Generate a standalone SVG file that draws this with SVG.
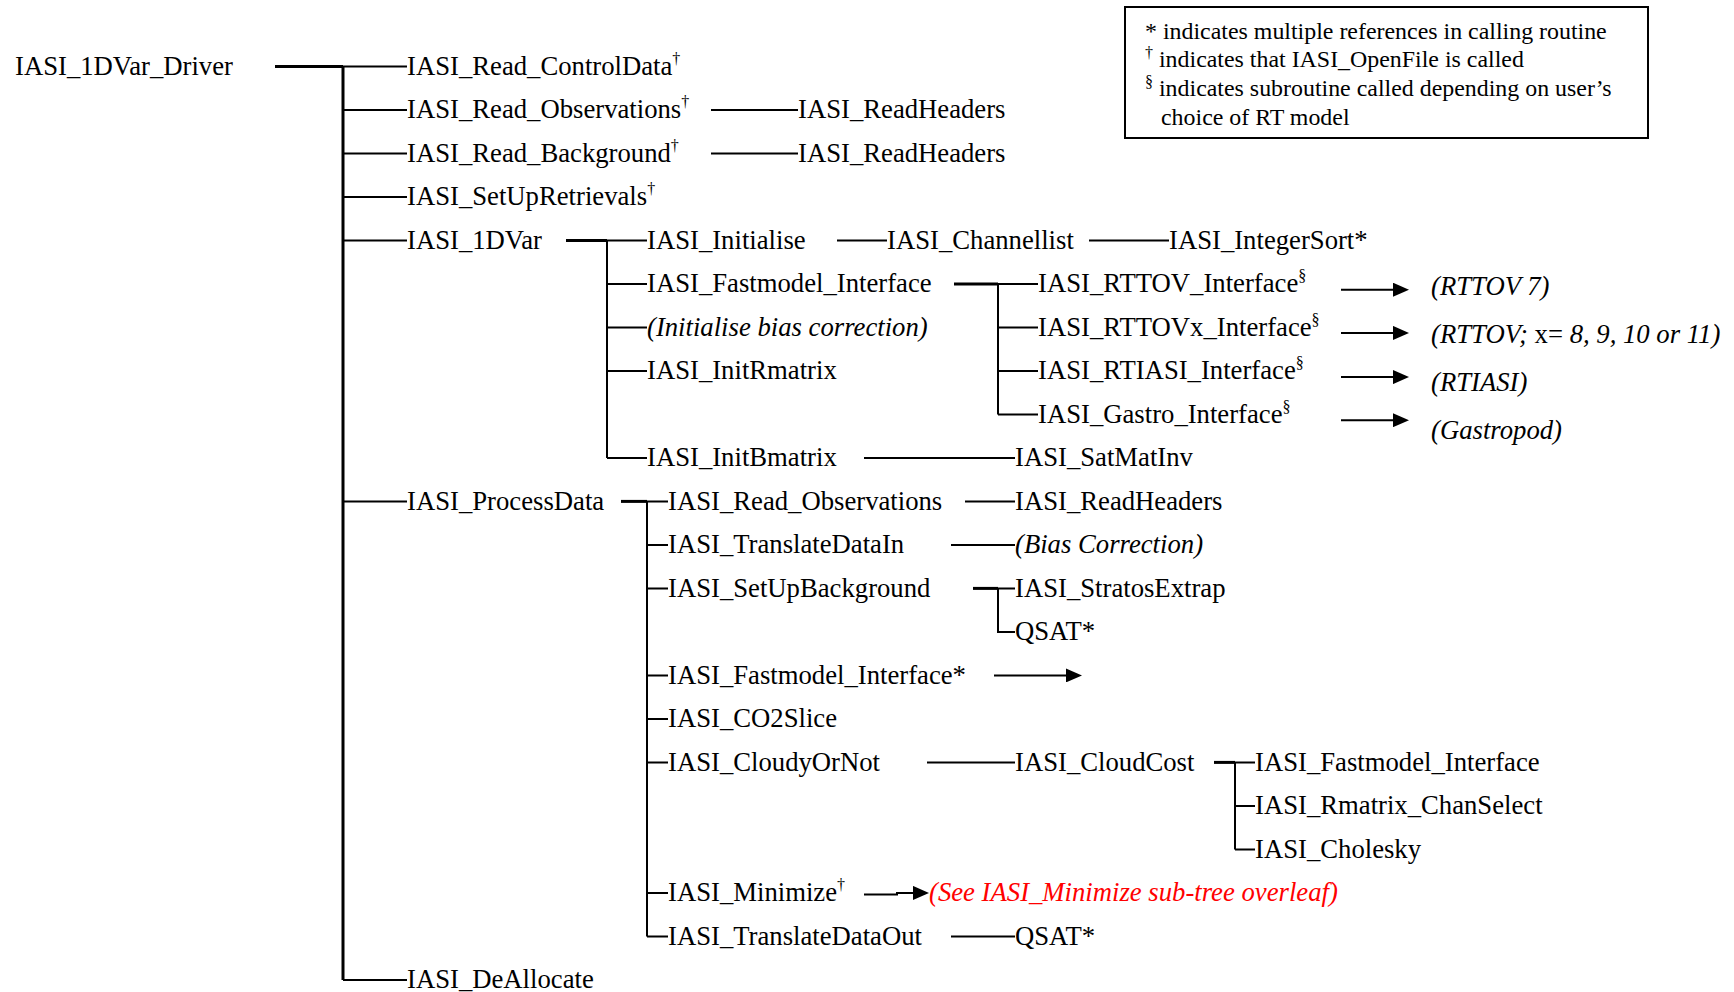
<svg xmlns="http://www.w3.org/2000/svg" width="1734" height="992" viewBox="0 0 1734 992">
<defs>
<style>
.t{font-family:"Liberation Serif","Times New Roman",serif;font-size:26.7px;fill:#000}
.i{font-style:italic}
.r{fill:#f00}
.sup{font-size:16px}
.lg{font-size:23.9px}
.ln{stroke:#000;stroke-width:2;fill:none}
.tk{stroke-width:3}
.box{fill:none;stroke:#000;stroke-width:2}
</style>
<marker id="ah" markerWidth="16" markerHeight="14" refX="0" refY="7" orient="auto" markerUnits="userSpaceOnUse">
<path d="M0,0 L16,7 L0,14 Z" fill="#000"/>
</marker>
</defs>
<rect width="1734" height="992" fill="#fff"/>

<g id="legend">
<rect class="box" x="1125" y="7" width="523" height="131"/>
<text class="t lg" x="1145" y="39">* indicates multiple references in calling routine</text>
<text class="t lg" x="1145" y="67"><tspan class="sup" dy="-9">†</tspan><tspan dy="9"> indicates that IASI_OpenFile is called</tspan></text>
<text class="t lg" x="1145" y="96"><tspan class="sup" dy="-9">§</tspan><tspan dy="9"> indicates subroutine called depending on user’s</tspan></text>
<text class="t lg" x="1161" y="125">choice of RT model</text>
</g>

<g id="connectors">
<path class="ln tk" d="M275 66.4 H343 M343 66.4 V979.9"/>
<path class="ln" d="M343 66.4 H407 M343 109.9 H407 M343 153.4 H407 M343 196.9 H407 M343 240.4 H407 M343 501.4 H407 M343 979.9 H407"/>
<path class="ln" d="M711 109.9 H798 M711 153.4 H798"/>
<path class="ln tk" d="M566 240.4 H607"/>
<path class="ln" d="M607 240.4 H647 M607 240.4 V457.9 M607 283.9 H647 M607 327.4 H647 M607 370.9 H647 M607 457.9 H647"/>
<path class="ln" d="M837 240.4 H887 M1089 240.4 H1169"/>
<path class="ln tk" d="M954 283.9 H998"/>
<path class="ln" d="M998 283.9 H1038 M998 283.9 V414.4 M998 327.4 H1038 M998 370.9 H1038 M998 414.4 H1038"/>
<path class="ln" d="M1341 289.7 H1393" marker-end="url(#ah)"/>
<path class="ln" d="M1341 332.9 H1393" marker-end="url(#ah)"/>
<path class="ln" d="M1341 377.1 H1393" marker-end="url(#ah)"/>
<path class="ln" d="M1341 420.2 H1393" marker-end="url(#ah)"/>
<path class="ln" d="M864 457.9 H1015"/>
<path class="ln tk" d="M621 501.4 H647"/>
<path class="ln" d="M647 501.4 H668 M647 501.4 V936.4 M647 544.9 H668 M647 588.4 H668 M647 675.4 H668 M647 718.9 H668 M647 762.4 H668 M647 892.9 H668 M647 936.4 H668"/>
<path class="ln" d="M965 501.4 H1015 M951 544.9 H1015"/>
<path class="ln tk" d="M973 588.4 H998"/>
<path class="ln" d="M998 588.4 H1015 M998 588.4 V631.9 H1015"/>
<path class="ln" d="M994 675.4 H1066" marker-end="url(#ah)"/>
<path class="ln" d="M927 762.4 H1015"/>
<path class="ln tk" d="M1214 762.4 H1235"/>
<path class="ln" d="M1235 762.4 H1255 M1235 762.4 V849.4 M1235 805.9 H1255 M1235 849.4 H1255"/>
<path class="ln" d="M864 894.6 H897 V892.9 H913" marker-end="url(#ah)"/>
<path class="ln" d="M951 936.4 H1015"/>
</g>

<g id="n_driver"><text class="t" x="15" y="75">IASI_1DVar_Driver</text></g>
<g id="n_readcontrol"><text class="t" x="407" y="75">IASI_Read_ControlData<tspan class="sup" dy="-11">†</tspan></text></g>
<g id="n_readobs"><text class="t" x="407" y="118.4">IASI_Read_Observations<tspan class="sup" dy="-11">†</tspan></text></g>
<g id="n_readheaders1"><text class="t" x="798" y="118.4">IASI_ReadHeaders</text></g>
<g id="n_readbg"><text class="t" x="407" y="161.9">IASI_Read_Background<tspan class="sup" dy="-11">†</tspan></text></g>
<g id="n_readheaders2"><text class="t" x="798" y="161.9">IASI_ReadHeaders</text></g>
<g id="n_setupret"><text class="t" x="407" y="205.4">IASI_SetUpRetrievals<tspan class="sup" dy="-11">†</tspan></text></g>
<g id="n_1dvar"><text class="t" x="407" y="248.9">IASI_1DVar</text></g>
<g id="n_initialise"><text class="t" x="647" y="248.9">IASI_Initialise</text></g>
<g id="n_channellist"><text class="t" x="887" y="248.9">IASI_Channellist</text></g>
<g id="n_intsort"><text class="t" x="1169" y="248.9">IASI_IntegerSort*</text></g>
<g id="n_fastmodel1"><text class="t" x="647" y="292.4">IASI_Fastmodel_Interface</text></g>
<g id="n_rttov"><text class="t" x="1038" y="292.4">IASI_RTTOV_Interface<tspan class="sup" dy="-11">§</tspan></text></g>
<g id="n_rttov7"><text class="t i" x="1431" y="295">(RTTOV 7)</text></g>
<g id="n_initbias"><text class="t i" x="647" y="335.9">(Initialise bias correction)</text></g>
<g id="n_rttovx"><text class="t" x="1038" y="335.9">IASI_RTTOVx_Interface<tspan class="sup" dy="-11">§</tspan></text></g>
<g id="n_rttovxl"><text class="t i" x="1431" y="342.5">(RTTOV; <tspan font-style="normal">x=</tspan> 8, 9, 10 or 11)</text></g>
<g id="n_initr"><text class="t" x="647" y="379.4">IASI_InitRmatrix</text></g>
<g id="n_rtiasi"><text class="t" x="1038" y="379.4">IASI_RTIASI_Interface<tspan class="sup" dy="-11">§</tspan></text></g>
<g id="n_rtiasil"><text class="t i" x="1431" y="391">(RTIASI)</text></g>
<g id="n_gastro"><text class="t" x="1038" y="422.9">IASI_Gastro_Interface<tspan class="sup" dy="-11">§</tspan></text></g>
<g id="n_gastrol"><text class="t i" x="1431" y="438.7">(Gastropod)</text></g>
<g id="n_initb"><text class="t" x="647" y="466.4">IASI_InitBmatrix</text></g>
<g id="n_satmat"><text class="t" x="1015" y="466.4">IASI_SatMatInv</text></g>
<g id="n_process"><text class="t" x="407" y="509.9">IASI_ProcessData</text></g>
<g id="n_readobs2"><text class="t" x="668" y="509.9">IASI_Read_Observations</text></g>
<g id="n_readheaders3"><text class="t" x="1015" y="509.9">IASI_ReadHeaders</text></g>
<g id="n_transin"><text class="t" x="668" y="553.4">IASI_TranslateDataIn</text></g>
<g id="n_bias"><text class="t i" x="1015" y="553.4">(Bias Correction)</text></g>
<g id="n_setupbg"><text class="t" x="668" y="596.9">IASI_SetUpBackground</text></g>
<g id="n_stratos"><text class="t" x="1015" y="596.9">IASI_StratosExtrap</text></g>
<g id="n_qsat1"><text class="t" x="1015" y="640.4">QSAT*</text></g>
<g id="n_fastmodel2"><text class="t" x="668" y="683.9">IASI_Fastmodel_Interface*</text></g>
<g id="n_co2"><text class="t" x="668" y="727.4">IASI_CO2Slice</text></g>
<g id="n_cloudy"><text class="t" x="668" y="770.9">IASI_CloudyOrNot</text></g>
<g id="n_cloudcost"><text class="t" x="1015" y="770.9">IASI_CloudCost</text></g>
<g id="n_fastmodel3"><text class="t" x="1255" y="770.9">IASI_Fastmodel_Interface</text></g>
<g id="n_rmatrix"><text class="t" x="1255" y="814.4">IASI_Rmatrix_ChanSelect</text></g>
<g id="n_cholesky"><text class="t" x="1255" y="857.9">IASI_Cholesky</text></g>
<g id="n_minimize"><text class="t" x="668" y="901.4">IASI_Minimize<tspan class="sup" dy="-11">†</tspan></text></g>
<g id="n_see"><text class="t i r" x="929" y="901.4">(See IASI_Minimize sub-tree overleaf)</text></g>
<g id="n_transout"><text class="t" x="668" y="944.9">IASI_TranslateDataOut</text></g>
<g id="n_qsat2"><text class="t" x="1015" y="944.9">QSAT*</text></g>
<g id="n_dealloc"><text class="t" x="407" y="988.4">IASI_DeAllocate</text></g>
</svg>
